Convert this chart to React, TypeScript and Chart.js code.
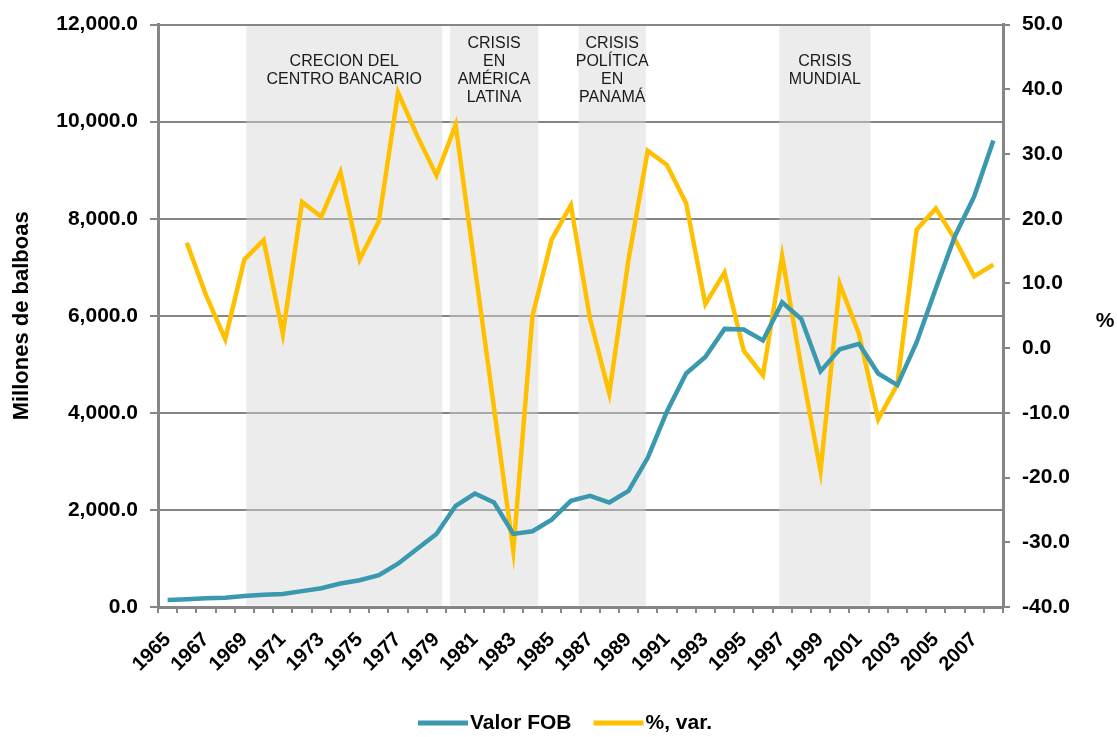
import React, { useEffect, useRef } from "react";
import { Chart, registerables } from "chart.js";

Chart.register(...registerables);

// ---------- DATA ----------
const YEARS: string[] = [
  "1965", "1966", "1967", "1968", "1969", "1970", "1971", "1972", "1973", "1974",
  "1975", "1976", "1977", "1978", "1979", "1980", "1981", "1982", "1983", "1984",
  "1985", "1986", "1987", "1988", "1989", "1990", "1991", "1992", "1993", "1994",
  "1995", "1996", "1997", "1998", "1999", "2000", "2001", "2002", "2003", "2004",
  "2005", "2006", "2007", "2008",
];

// Millones de balboas
const VALOR_FOB: number[] = [
  145, 160, 178, 190, 225, 252, 266, 327, 388, 484,
  552, 654, 893, 1200, 1506, 2085, 2337, 2153, 1506, 1560,
  1800, 2187, 2290, 2153, 2392, 3073, 4027, 4811, 5151, 5730,
  5717, 5492, 6276, 5934, 4859, 5309, 5424, 4811, 4573, 5450,
  6564, 7645, 8460, 9610,
];

// % variación anual
const VAR_PCT: (number | null)[] = [
  null, 16.3, 8.2, 1.4, 13.7, 16.7, 2.2, 22.6, 20.3, 27.2,
  13.7, 19.6, 39.5, 32.8, 26.7, 34.5, 12.5, -9.3, -31.3, 5.0,
  16.8, 22.1, 4.5, -7.0, 13.7, 30.5, 28.3, 22.4, 6.8, 11.7,
  -0.4, -4.2, 14.2, -3.0, -19.0, 9.9, 2.2, -11.0, -5.6, 18.3,
  21.6, 16.8, 11.1, 12.9,
];

const LEFT_MIN = 0;
const LEFT_MAX = 12000;
const LEFT_STEP = 2000;
const RIGHT_MIN = -40;
const RIGHT_MAX = 50;
const RIGHT_STEP = 10;

// Shaded periods (in years, fractional)
const BAND_FROM: number[] = [1969.1, 1979.7, 1986.4, 1996.85];
const BAND_TO: number[] = [1979.3, 1984.3, 1989.9, 2001.6];
const BAND_LABELS: string[][] = [
  ["CRECION DEL", "CENTRO BANCARIO"],
  ["CRISIS", "EN", "AMÉRICA", "LATINA"],
  ["CRISIS", "POLÍTICA", "EN", "PANAMÁ"],
  ["CRISIS", "MUNDIAL"],
];

const SERIES_NAMES: string[] = ["Valor FOB", "%, var."];
const LEFT_TITLE = "Millones de balboas";
const RIGHT_TITLE = "%";

// ---------- STYLE ----------
const TEAL = "#3A98AF";
const YELLOW = "#FFC000";
const GRAY = "#868686";
const FONT = "'Liberation Sans', Arial, sans-serif";
const W = 1117;
const H = 737;

const fmtThousands = (v: number) =>
  v.toLocaleString("en-US", { minimumFractionDigits: 1, maximumFractionDigits: 1 });

const bandsPlugin = {
  id: "bands",
  beforeDatasetsDraw(chart: any) {
    const { ctx, chartArea, scales } = chart;
    const x = scales.x;
    const first = Number(YEARS[0]);
    ctx.save();
    for (let i = 0; i < BAND_FROM.length; i++) {
      const x0 = x.getPixelForValue(BAND_FROM[i] - first);
      const x1 = x.getPixelForValue(BAND_TO[i] - first);
      ctx.fillStyle = "rgba(212,212,212,0.45)";
      ctx.fillRect(x0, chartArea.top + 1.5, x1 - x0, chartArea.bottom - chartArea.top - 3);
      const lines = BAND_LABELS[i];
      const lh = 18;
      const cy = chartArea.top + 45.5;
      const startY = cy - ((lines.length - 1) * lh) / 2;
      ctx.fillStyle = "#1a1a1a";
      ctx.font = `16px ${FONT}`;
      ctx.textAlign = "center";
      ctx.textBaseline = "middle";
      lines.forEach((t, k) => ctx.fillText(t, (x0 + x1) / 2, startY + k * lh));
    }
    ctx.restore();
  },
};

const overlayPlugin = {
  id: "overlay",
  afterDraw(chart: any) {
    const { ctx, chartArea } = chart;
    ctx.save();
    // left axis title
    ctx.font = `bold 22px ${FONT}`;
    ctx.fillStyle = "#000";
    ctx.textAlign = "center";
    ctx.textBaseline = "middle";
    ctx.translate(22, (chartArea.top + chartArea.bottom) / 2);
    ctx.rotate(-Math.PI / 2);
    ctx.fillText(LEFT_TITLE, 0, 0);
    ctx.restore();

    ctx.save();
    ctx.font = `bold 21px ${FONT}`;
    ctx.fillStyle = "#000";
    ctx.textAlign = "center";
    ctx.textBaseline = "middle";
    ctx.fillText(RIGHT_TITLE, 1105, 321);

    // legend
    const colors = chart.data.datasets.map((d: any) => d.borderColor);
    let lx = 418;
    const ly = 723;
    ctx.textAlign = "left";
    ctx.font = `bold 21px ${FONT}`;
    SERIES_NAMES.forEach((name, i) => {
      ctx.strokeStyle = colors[i];
      ctx.lineWidth = 5;
      ctx.beginPath();
      ctx.moveTo(lx, ly);
      ctx.lineTo(lx + 50, ly);
      ctx.stroke();
      ctx.fillStyle = "#000";
      ctx.fillText(name, lx + 52, ly);
      lx += 52 + ctx.measureText(name).width + 22;
    });
    ctx.restore();
  },
};

export default function App() {
  const ref = useRef<HTMLCanvasElement | null>(null);

  useEffect(() => {
    if (!ref.current) return;
    const tickFont = { family: FONT, size: 21, weight: "bold" as const };
    const chart = new Chart(ref.current, {
      type: "line",
      data: {
        labels: YEARS,
        datasets: [
          {
            label: SERIES_NAMES[0],
            data: VALOR_FOB,
            borderColor: TEAL,
            backgroundColor: TEAL,
            borderWidth: 4.5,
            pointRadius: 0,
            tension: 0,
            yAxisID: "y",
          },
          {
            label: SERIES_NAMES[1],
            data: VAR_PCT,
            borderColor: YELLOW,
            backgroundColor: YELLOW,
            borderWidth: 4.5,
            pointRadius: 0,
            tension: 0,
            yAxisID: "y1",
          },
        ],
      },
      options: {
        animation: false,
        responsive: false,
        maintainAspectRatio: false,
        layout: { padding: { top: 20, left: 0, right: 0, bottom: 0 } },
        plugins: { legend: { display: false }, tooltip: { enabled: false } },
        scales: {
          x: {
            offset: true,
            grid: {
              offset: true,
              drawOnChartArea: false,
              drawTicks: true,
              tickLength: 6,
              color: GRAY,
              lineWidth: 2,
            },
            border: { color: GRAY, width: 3 },
            ticks: {
              autoSkip: false,
              maxRotation: 45,
              minRotation: 45,
              padding: 15,
              color: "#000",
              font: { family: FONT, size: 20, weight: "bold" as const },
              callback: (_v: any, i: number) => (i % 2 === 0 ? YEARS[i] : ""),
            },
            afterFit: (s: any) => {
              s.height = 130;
            },
          },
          y: {
            position: "left",
            min: LEFT_MIN,
            max: LEFT_MAX,
            ticks: {
              stepSize: LEFT_STEP,
              padding: 12,
              color: "#000",
              font: tickFont,
              callback: (v: any) => fmtThousands(Number(v)),
            },
            grid: { color: GRAY, lineWidth: 2, tickLength: 8 },
            border: { color: GRAY, width: 3 },
            afterFit: (s: any) => {
              s.width = 158;
            },
          },
          y1: {
            position: "right",
            min: RIGHT_MIN,
            max: RIGHT_MAX,
            ticks: {
              stepSize: RIGHT_STEP,
              padding: 12,
              color: "#000",
              font: tickFont,
              callback: (v: any) => Number(v).toFixed(1),
            },
            grid: { drawOnChartArea: false, color: GRAY, lineWidth: 2, tickLength: 7 },
            border: { color: GRAY, width: 3 },
            afterFit: (s: any) => {
              s.width = W - 1003;
            },
          },
        },
      },
      plugins: [bandsPlugin, overlayPlugin],
    });
    return () => chart.destroy();
  }, []);

  return (
    <div style={{ position: "absolute", left: 0, top: 0, width: W, height: H, background: "#fff" }}>
      <canvas ref={ref} width={W} height={H} style={{ width: W, height: H, display: "block" }} />
    </div>
  );
}
